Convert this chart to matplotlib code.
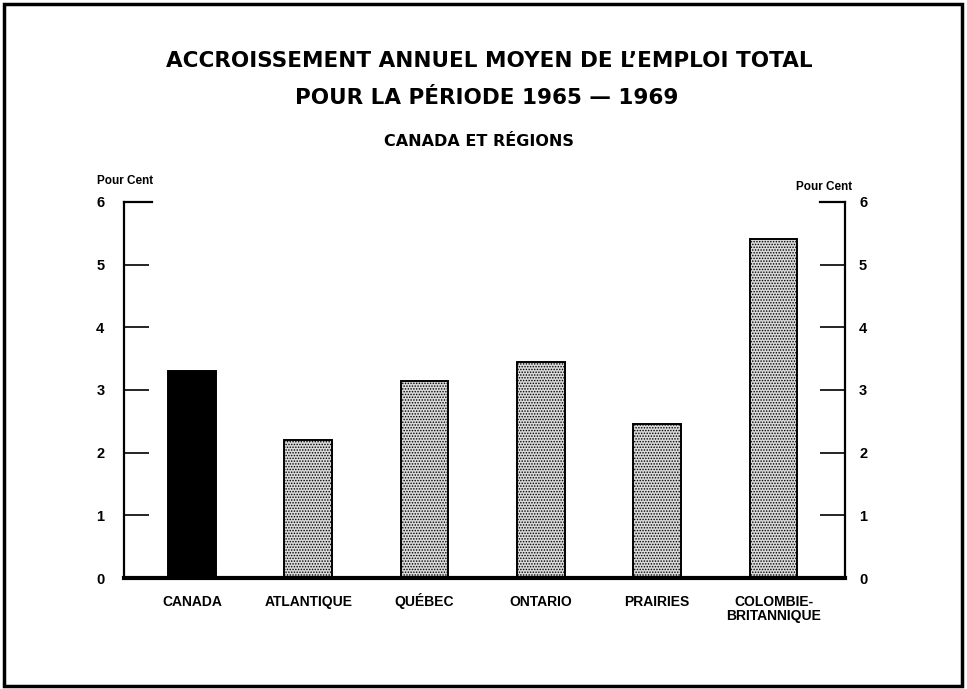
# encoding:utf-8
# accroissement annuel moyen de l'emploi total, 1965-1969


import matplotlib
matplotlib.use('Agg')
import matplotlib.pyplot as plt
from matplotlib.patches import Rectangle


REGIONS = ['CANADA', 'ATLANTIQUE', 'QUÉBEC', 'ONTARIO', 'PRAIRIES', 'COLOMBIE-\nBRITANNIQUE']
GROWTH = [3.3, 2.2, 3.15, 3.45, 2.45, 5.4]
Y_TICKS = [0, 1, 2, 3, 4, 5, 6]

TITLE_1 = 'ACCROISSEMENT ANNUEL MOYEN DE L’EMPLOI TOTAL'
TITLE_2 = 'POUR LA PÉRIODE 1965 — 1969'
SUBTITLE = 'CANADA ET RÉGIONS'
UNIT = 'Pour Cent'


def draw_chart():
    plt.rcParams['hatch.linewidth'] = 0.7
    fig = plt.figure(figsize=(9.67, 6.89), dpi=100)
    fig.patch.set_facecolor('white')

    # frame round the whole page
    fig.add_artist(Rectangle((0.004, 0.004), 0.991, 0.99, transform=fig.transFigure,
                             fill=False, edgecolor='black', linewidth=2.5))

    ax = fig.add_axes([0.128, 0.161, 0.746, 0.546])
    x = list(range(len(REGIONS)))
    colors = ['black'] + ['#d9d9d9'] * (len(REGIONS) - 1)
    hatches = [''] + ['......'] * (len(REGIONS) - 1)
    for xi, val, col, hat in zip(x, GROWTH, colors, hatches):
        ax.bar(xi, val, width=0.41, color=col, edgecolor='black', linewidth=1.4,
               hatch=hat, zorder=2)

    ax.set_xlim(-0.585, 5.615)
    ax.set_ylim(0, 6)
    for side in ['top', 'right']:
        ax.spines[side].set_visible(False)
    ax.spines['left'].set_linewidth(1.6)
    ax.spines['bottom'].set_linewidth(3)
    ax.set_xticks(x)
    ax.set_xticklabels([])
    ax.tick_params(axis='x', length=0)
    # category names, one text per line so every first line sits on the same baseline
    for xi, name in zip(x, REGIONS):
        for k, line in enumerate(name.split('\n')):
            ax.text(xi, -0.44 - 0.23 * k, line, fontsize=10, family='Liberation Sans',
                    fontweight='bold', ha='center', va='baseline')
    ax.set_yticks(Y_TICKS)
    ax.set_yticklabels([str(v) for v in Y_TICKS], fontsize=10.5, family='Liberation Sans',
                       fontweight='bold')
    ax.tick_params(axis='y', direction='in', length=18, width=1.2, pad=14)
    # longer line at the top of the scale
    ax.plot([-0.585, -0.345], [6, 6], color='black', linewidth=1.6, clip_on=False)

    ax2 = ax.twinx()
    ax2.set_ylim(0, 6)
    for side in ['top', 'left', 'bottom']:
        ax2.spines[side].set_visible(False)
    ax2.spines['right'].set_linewidth(1.6)
    ax2.set_yticks(Y_TICKS)
    ax2.set_yticklabels([str(v) for v in Y_TICKS], fontsize=10.5, family='Liberation Sans',
                        fontweight='bold')
    ax2.tick_params(axis='y', direction='in', length=18, width=1.2, pad=10)
    ax2.plot([5.4, 5.615], [6, 6], color='black', linewidth=1.6, clip_on=False)

    fig.text(0.129, 0.738, UNIT, fontsize=8.5, family='Liberation Sans', fontweight='bold',
             ha='center', va='center')
    fig.text(0.852, 0.729, UNIT, fontsize=8.5, family='Liberation Sans', fontweight='bold',
             ha='center', va='center')

    fig.text(0.506, 0.911, TITLE_1, fontsize=15.5, fontweight='bold', ha='center', va='center')
    fig.text(0.503, 0.858, TITLE_2, fontsize=15.5, fontweight='bold', ha='center', va='center')
    fig.text(0.495, 0.794, SUBTITLE, fontsize=11.5, fontweight='bold', ha='center', va='center')

    fig.savefig('out.png', dpi=100)


if __name__ == '__main__':
    draw_chart()
